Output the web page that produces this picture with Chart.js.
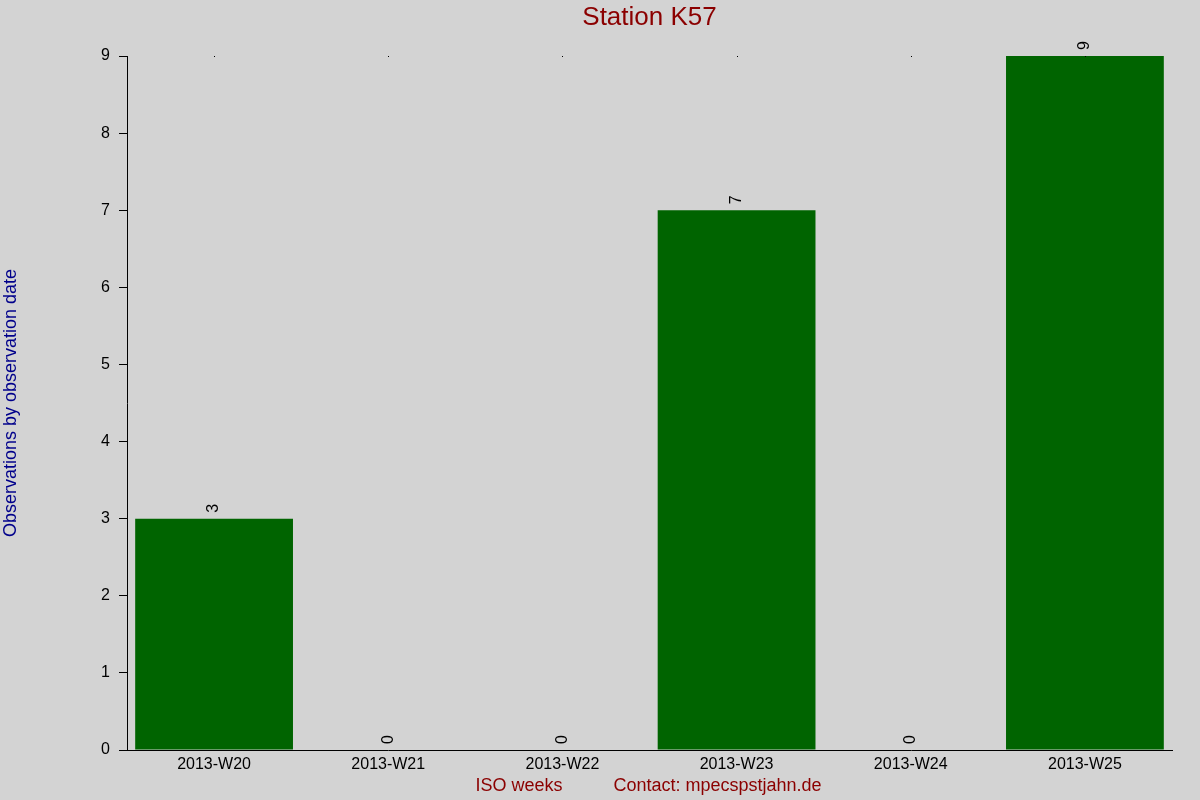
<!DOCTYPE html>
<html lang="en">
<head>
    <meta charset="UTF-8">
    <title>Station K57</title>
    <script src="https://cdn.jsdelivr.net/npm/chart.js@4"></script>
    <style>
        html, body { margin: 0; padding: 0; background: #d3d3d3; }
        #wrap { width: 1200px; height: 800px; }
    </style>
</head>
<body>
    <div id="wrap"><canvas id="myChart" width="1200" height="800"></canvas></div>

    <script type="text/javascript">
        var weeks = ["2013-W20", "2013-W21", "2013-W22", "2013-W23", "2013-W24", "2013-W25"];
        var observations = [3, 0, 0, 7, 0, 9];
        var yTicks = [0, 1, 2, 3, 4, 5, 6, 7, 8, 9];

        var chartTitle = "Station K57";
        var yTitle = "Observations by observation date";
        var xTitleLeft = "ISO weeks";
        var xTitleRight = "Contact: mpecspstjahn.de";

        var FONT = "'Liberation Sans', Arial, sans-serif";

        // texts, value labels and the little top dots
        var decorations = {
            id: 'decorations',
            beforeDraw: function(chart) {
                var c = chart.ctx;
                c.save();
                c.fillStyle = '#d3d3d3';
                c.fillRect(0, 0, chart.width, chart.height);
                c.restore();
            },
            afterDraw: function(chart) {
                var c = chart.ctx;
                var area = chart.chartArea;
                var xs = chart.scales.x;
                var ys = chart.scales.y;
                var mid = (area.left + area.right) / 2;
                c.save();

                c.fillStyle = '#8b0000';
                c.font = '26px ' + FONT;
                c.textAlign = 'center';
                c.textBaseline = 'middle';
                c.fillText(chartTitle, mid, 18);

                c.font = '18px ' + FONT;
                c.textAlign = 'right';
                c.fillText(xTitleLeft, mid - 87, 786);
                c.textAlign = 'left';
                c.fillText(xTitleRight, mid - 36, 786);

                c.save();
                c.fillStyle = '#00008b';
                c.translate(11, (area.top + area.bottom) / 2);
                c.rotate(-Math.PI / 2);
                c.textAlign = 'center';
                c.fillText(yTitle, 0, 0);
                c.restore();

                c.fillStyle = '#000';
                c.font = '16px ' + FONT;
                c.textAlign = 'left';
                c.textBaseline = 'middle';
                observations.forEach(function(v, i) {
                    var x = xs.getPixelForValue(i);
                    var y = ys.getPixelForValue(v);
                    c.fillRect(Math.round(x), Math.round(area.top), 1, 1);
                    c.save();
                    c.translate(x, y - 6);
                    c.rotate(-Math.PI / 2);
                    c.fillText(String(v), 0, 0);
                    c.restore();
                });
                c.restore();
            }
        };

        var ctx = document.getElementById('myChart').getContext('2d');
        var chart = new Chart(ctx, {
            type: 'bar',
            data: {
                labels: weeks,
                datasets: [{
                    data: observations,
                    backgroundColor: '#006400',
                    borderWidth: 0,
                    categoryPercentage: 1.0,
                    barPercentage: 0.906
                }]
            },
            options: {
                responsive: false,
                animation: false,
                devicePixelRatio: 1,
                layout: { padding: { top: 56, right: 28, left: 0, bottom: 0 } },
                plugins: {
                    legend: { display: false },
                    title: { display: false },
                    tooltip: { enabled: false }
                },
                scales: {
                    x: {
                        offset: true,
                        grid: { display: false, drawTicks: false },
                        border: { display: true, color: '#000', width: 1 },
                        ticks: { color: '#000', font: { family: FONT, size: 16 }, padding: 5, maxRotation: 0 },
                        afterFit: function(scale) { scale.height = 50; }
                    },
                    y: {
                        min: 0,
                        max: 9,
                        afterBuildTicks: function(scale) {
                            scale.ticks = yTicks.map(function(v) { return { value: v }; });
                        },
                        grid: { drawOnChartArea: false, drawTicks: true, tickLength: 8, color: '#000' },
                        border: { display: true, color: '#000', width: 1 },
                        ticks: { color: '#000', font: { family: FONT, size: 16 }, padding: 9 },
                        afterFit: function(scale) { scale.width = 127; }
                    }
                }
            },
            plugins: [decorations]
        });
    </script>
</body>
</html>
